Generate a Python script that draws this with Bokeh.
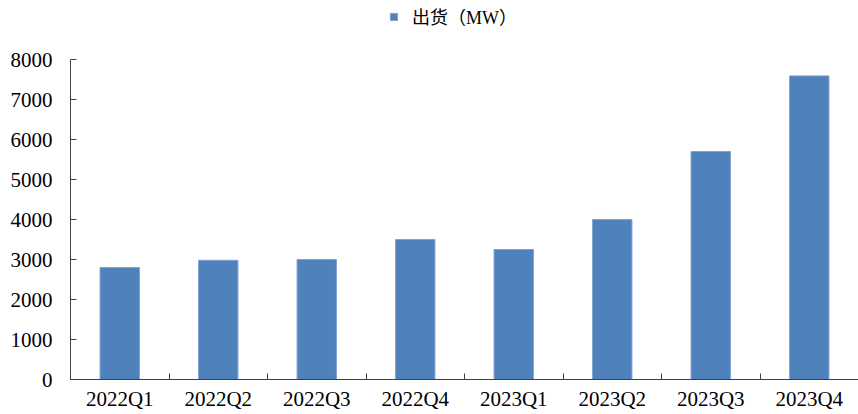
from bokeh.plotting import figure
from bokeh.models import ColumnDataSource, FixedTicker, Range1d, Legend, LegendItem
from bokeh.embed import file_html
from bokeh.resources import INLINE

# Quarterly shipments (MW)
quarters = ["2022Q1", "2022Q2", "2022Q3", "2022Q4",
            "2023Q1", "2023Q2", "2023Q3", "2023Q4"]
shipments = [2800, 2980, 3000, 3500, 3250, 4000, 5700, 7590]
y_ticks = [0, 1000, 2000, 3000, 4000, 5000, 6000, 7000, 8000]
series_name = "出货（MW）"

BAR_COLOR = "#4F81BD"
AXIS_COLOR = "#404040"
SERIF = "Liberation Serif"
LEGEND_FONT = "'Liberation Serif', 'Noto Sans CJK SC'"

W, H = 858, 414
BORDER_BOTTOM = 35
FRAME_H = H - BORDER_BOTTOM
AXIS_PX = 320  # pixel length of the 0..8000 value axis; the space above holds the legend

n = len(quarters)
centers = [i + 0.5 for i in range(n)]
source = ColumnDataSource(dict(x=centers, top=shipments, label=quarters))

y_max = y_ticks[-1]
y_end = y_max * FRAME_H / AXIS_PX

p = figure(width=W, height=H, output_backend="svg", toolbar_location=None,
           x_range=Range1d(0, n), y_range=Range1d(0, y_end),
           min_border_left=70, min_border_right=0,
           min_border_top=0, min_border_bottom=BORDER_BOTTOM)
p.outline_line_color = None
p.grid.grid_line_color = None
p.background_fill_color = "white"
p.border_fill_color = "white"

r = p.vbar(x="x", top="top", width=0.40, source=source,
           fill_color=BAR_COLOR, line_color="#7FA3D0", line_width=1)

# x axis: labels at category centres, tick marks at category boundaries
p.xaxis.ticker = FixedTicker(ticks=centers, minor_ticks=list(range(n + 1)))
p.xaxis.major_label_overrides = {c: q for c, q in zip(centers, quarters)}
p.xaxis.major_tick_in = 0
p.xaxis.major_tick_out = 0
p.xaxis.minor_tick_in = 6
p.xaxis.minor_tick_out = 0
p.xaxis.minor_tick_line_color = AXIS_COLOR
p.xaxis.axis_line_color = AXIS_COLOR
p.xaxis.major_label_standoff = 7
p.xaxis.major_label_text_font = SERIF
p.xaxis.major_label_text_font_size = "21px"
p.xaxis.major_label_text_color = "black"

# y axis, its line limited to the 0..8000 span
p.yaxis.ticker = FixedTicker(ticks=y_ticks, minor_ticks=[])
p.yaxis.bounds = (0, y_max)
p.yaxis.major_tick_in = 6
p.yaxis.major_tick_out = 0
p.yaxis.major_tick_line_color = AXIS_COLOR
p.yaxis.axis_line_color = AXIS_COLOR
p.yaxis.major_label_standoff = 18
p.yaxis.major_label_text_font = SERIF
p.yaxis.major_label_text_font_size = "21px"
p.yaxis.major_label_text_color = "black"

legend = Legend(items=[LegendItem(label=series_name, renderers=[r])],
                orientation="horizontal", location=(319, FRAME_H - 29),
                label_text_font=LEGEND_FONT, label_text_font_size="18px",
                label_text_color="black", glyph_width=9, glyph_height=9,
                border_line_color=None, background_fill_alpha=0,
                padding=0, margin=0, spacing=0, label_standoff=14)
p.add_layout(legend)

open("out.html", "w").write(file_html(p, INLINE))
